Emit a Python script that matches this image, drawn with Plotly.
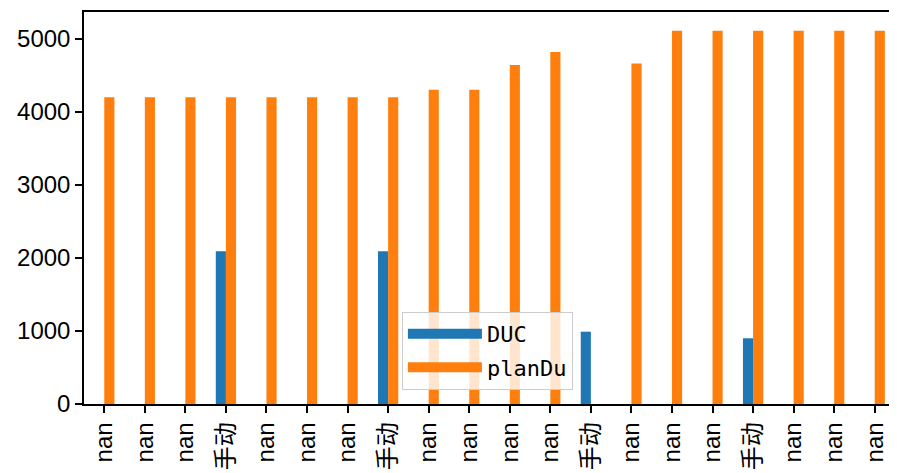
import plotly.graph_objects as go

labels = ["nan", "nan", "nan", "手动", "nan", "nan", "nan", "手动", "nan", "nan",
          "nan", "nan", "手动", "nan", "nan", "nan", "手动", "nan", "nan", "nan"]
duc = [None, None, None, 2090, None, None, None, 2090, None, None,
       None, None, 990, None, None, None, 900, None, None, None]
plandu = [4200, 4200, 4200, 4200, 4200, 4200, 4200, 4200, 4300, 4300,
          4640, 4820, None, 4660, 5110, 5110, 5110, 5110, 5110, 5110]

x = list(range(len(labels)))
font = "Liberation Sans, Noto Sans CJK SC, Arial, sans-serif"
legfont = "DejaVu Sans Mono, Noto Sans CJK SC, monospace"
blue, orange = "#1f77b4", "#ff7f0e"

fig = go.Figure()
fig.add_trace(go.Bar(x=x, y=duc, name="DUC", marker=dict(color=blue, line=dict(width=0)),
                     showlegend=False, legendgroup="duc"))
fig.add_trace(go.Bar(x=x, y=plandu, name="planDu", marker=dict(color=orange, line=dict(width=0)),
                     showlegend=False, legendgroup="plandu"))
# legend proxies (wide rectangle patches, like matplotlib)
fig.add_trace(go.Scatter(x=[None], y=[None], mode="lines", name="DUC", legendgroup="duc",
                         line=dict(color=blue, width=19)))
fig.add_trace(go.Scatter(x=[None], y=[None], mode="lines", name="planDu", legendgroup="plandu",
                         line=dict(color=orange, width=19)))

# page body has an 8px margin; compensate so the plot area lands where the reference has it
fig.update_layout(
    width=889, height=465,
    margin=dict(l=76, r=2, t=4, b=69),
    barmode="group", bargap=0.5, bargroupgap=0,
    plot_bgcolor="white", paper_bgcolor="white",
    font=dict(family=font, size=24, color="black"),
    legend=dict(x=0.392, y=0.036, xanchor="left", yanchor="bottom",
                bgcolor="rgba(255,255,255,0.8)", bordercolor="#cccccc", borderwidth=1,
                font=dict(size=22, family=legfont), itemwidth=74, tracegroupgap=2),
    showlegend=True,
)
fig.update_xaxes(
    tickmode="array", tickvals=x, ticktext=labels, tickangle=-90,
    tickfont=dict(size=24, family=font),
    range=[-0.5, len(labels) - 0.5], automargin=False,
    showline=True, linecolor="black", linewidth=1.5, mirror=True,
    ticks="outside", ticklen=7, tickwidth=1.5, tickcolor="black",
    showgrid=False, zeroline=False,
)
fig.update_yaxes(
    range=[0, 5366], tickvals=[0, 1000, 2000, 3000, 4000, 5000], automargin=False,
    tickfont=dict(size=24, family=font),
    showline=True, linecolor="black", linewidth=1.5, mirror=True,
    ticks="outside", ticklen=7, tickwidth=1.5, tickcolor="black",
    showgrid=False, zeroline=False,
)

fig.write_html("out.html")
